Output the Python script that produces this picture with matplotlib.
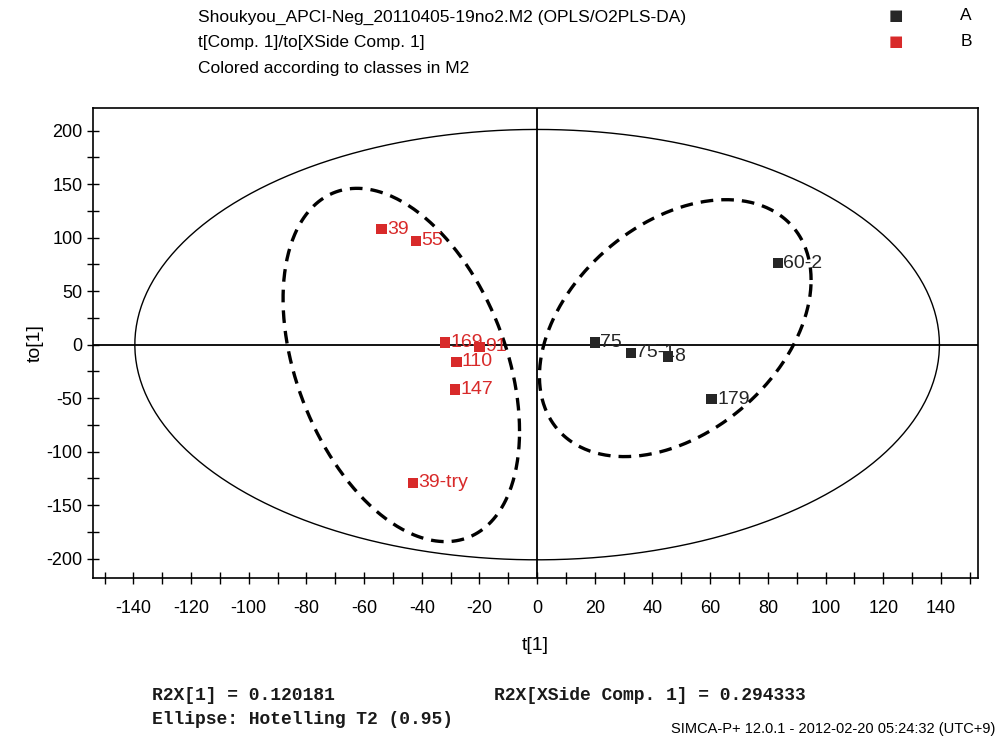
import numpy as np
import matplotlib
matplotlib.use("Agg")
import matplotlib.pyplot as plt
from matplotlib.ticker import MultipleLocator

plt.rcParams["axes.unicode_minus"] = False

# Scores: t[1] (predictive) and to[1] (orthogonal)
names_a = ["75", "75-1", "8", "179", "60-2"]
t_a = [20.0, 32.5, 45.5, 60.5, 83.5]
to_a = [2.0, -7.5, -11.0, -51.0, 76.0]

names_b = ["39", "55", "169", "91", "110", "147", "39-try"]
t_b = [-54.0, -42.0, -32.0, -20.0, -28.0, -28.5, -43.0]
to_b = [108.0, 97.0, 2.0, -2.0, -16.0, -42.0, -129.0]

# Hotelling T2 (0.95) ellipse semi-axes
t2_axes = (139.5, 201.0)

# Class ellipses: centre, half-width in t, half-height in to, phase (deg)
class_ellipses = {
    "A": dict(center=(47.9, 15.4), wx=47.1, hy=120.0, phase=68.0),
    "B": dict(center=(-47.1, -19.0), wx=41.0, hy=165.0, phase=112.0),
}

color_a = "#262626"
color_b = "#d82a2a"

fig = plt.figure(figsize=(9.97, 7.42), dpi=100)
ax = fig.add_axes([0.0933, 0.221, 0.888, 0.6334])
ax.set_xlim(-154, 153)
ax.set_ylim(-218, 221)

# zero lines
ax.axhline(0, color="black", lw=1.3, zorder=1)
ax.axvline(0, color="black", lw=1.3, zorder=1)

# Hotelling ellipse
th = np.linspace(0, 2 * np.pi, 400)
ax.plot(t2_axes[0] * np.cos(th), t2_axes[1] * np.sin(th), color="black", lw=1.0, zorder=2)

# class ellipses
for spec in class_ellipses.values():
    cx, cy = spec["center"]
    ph = np.deg2rad(spec["phase"])
    ex = cx + spec["wx"] * np.cos(th)
    ey = cy + spec["hy"] * np.cos(th - ph)
    ax.plot(ex, ey, color="black", lw=2.4, ls=(0, (3.8, 2.4)), zorder=2)

# points and labels
for names, xs, ys, col in [(names_a, t_a, to_a, color_a), (names_b, t_b, to_b, color_b)]:
    for n, x, y in zip(names, xs, ys):
        ax.annotate(n, (x, y), xytext=(4, 0), textcoords="offset points",
                    va="center", ha="left", color=col, fontsize=14,
                    family="Liberation Sans", zorder=3)
    ax.scatter(xs, ys, marker="s", s=55, color=col, edgecolors="none", zorder=4)

ax.xaxis.set_major_locator(MultipleLocator(20))
ax.xaxis.set_minor_locator(MultipleLocator(10))
ax.yaxis.set_major_locator(MultipleLocator(50))
ax.yaxis.set_minor_locator(MultipleLocator(25))
ax.tick_params(which="both", direction="inout", length=8, width=1.0, color="black")
ax.tick_params(axis="x", which="major", pad=12)
ax.tick_params(labelsize=13)
for lab in ax.get_xticklabels() + ax.get_yticklabels():
    lab.set_family("Liberation Sans")
for sp in ax.spines.values():
    sp.set_linewidth(1.2)

ax.set_xlabel("t[1]", fontsize=14, family="Liberation Sans", labelpad=14)
ax.set_ylabel("to[1]", fontsize=14, family="Liberation Sans", labelpad=2)

# header text
hdr = ["Shoukyou_APCI-Neg_20110405-19no2.M2 (OPLS/O2PLS-DA)",
       "t[Comp. 1]/to[XSide Comp. 1]",
       "Colored according to classes in M2"]
for i, line in enumerate(hdr):
    fig.text(198 / 997, 1 - (17 + 26 * i) / 742, line, fontsize=12.5,
             family="Liberation Sans", va="center", ha="left")

# legend
for i, (lab, col) in enumerate([("A", color_a), ("B", color_b)]):
    y = 1 - (16 + 25 * i) / 742
    fig.text(896 / 997, y, "\u25a0", color=col, fontsize=11, va="center", ha="center",
             family="DejaVu Sans")
    fig.text(966 / 997, y, lab, fontsize=12.5, va="center", ha="center",
             family="Liberation Sans")

# footer
mono = dict(fontsize=13, family="Liberation Mono", weight="bold", va="center", ha="left",
            color="#1a1a1a")
fig.text(152 / 997, 1 - 695 / 742, "R2X[1] = 0.120181", **mono)
fig.text(494 / 997, 1 - 695 / 742, "R2X[XSide Comp. 1] = 0.294333", **mono)
fig.text(152 / 997, 1 - 719 / 742, "Ellipse: Hotelling T2 (0.95)", **mono)
fig.text(995 / 997, 1 - 729 / 742, "SIMCA-P+ 12.0.1 - 2012-02-20 05:24:32 (UTC+9)", fontsize=10.5,
         family="Liberation Sans", va="center", ha="right")

fig.savefig("out.png", dpi=100)
